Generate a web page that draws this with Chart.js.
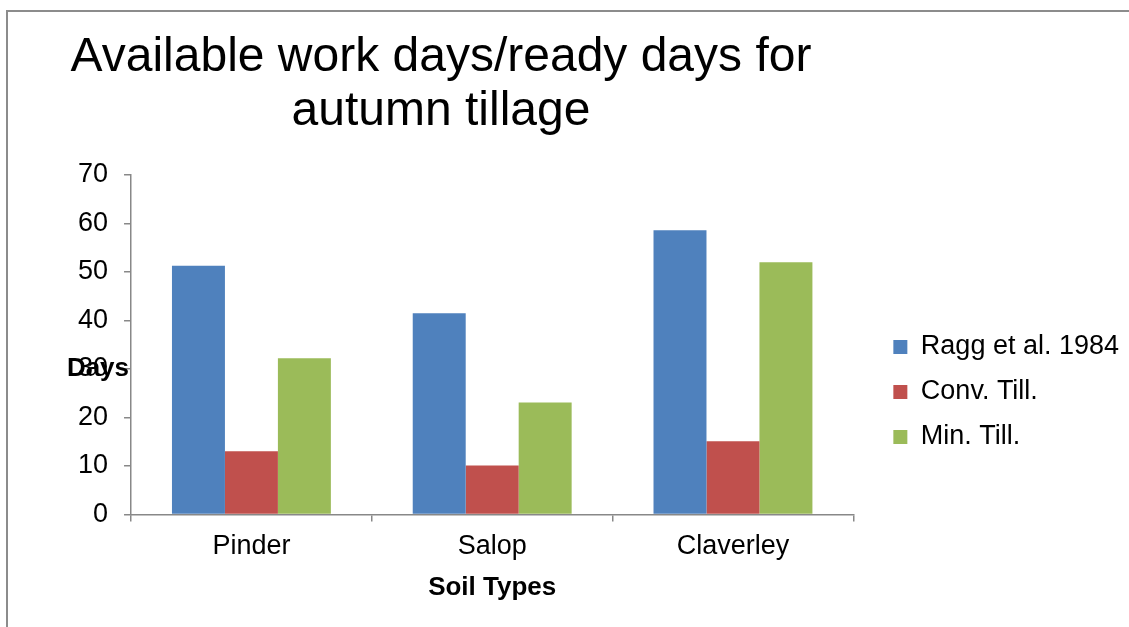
<!DOCTYPE html>
<html>
<head>
<meta charset="utf-8">
<script src="https://cdn.jsdelivr.net/npm/chart.js@4/dist/chart.umd.min.js"></script>
<style>
  html, body { margin: 0; padding: 0; background: #fff; overflow: hidden; }
  #wrap { position: relative; width: 1129px; height: 627px; }
  #frame { position: absolute; left: 6px; top: 10px; width: 1140px; height: 640px;
           border-left: 2px solid #8c8c8c; border-top: 2px solid #8c8c8c; }
  canvas { position: absolute; left: 0; top: 0; }
</style>
</head>
<body>
<div id="wrap">
  <div id="frame"></div>
  <canvas id="chart" width="1129" height="627"></canvas>
</div>
<script>
const soilTypes = ['Pinder', 'Salop', 'Claverley']
const raggDays = [51.3, 41.5, 58.6]
const convTillDays = [13, 10.1, 15.1]
const minTillDays = [32.2, 23.1, 52]
const titleLines = ['Available work days/ready days for', 'autumn tillage']

const FONT = '"Liberation Sans", Arial, sans-serif'
const AXIS_GREY = '#888888'

// title and the horizontal "Days" label sit where chart.js can't put them
const extraText = {
  id: 'extraText',
  afterDraw(chart) {
    const ctx = chart.ctx
    ctx.save()
    ctx.fillStyle = '#000'
    ctx.textAlign = 'center'
    ctx.textBaseline = 'middle'
    ctx.font = '48px ' + FONT
    ctx.fillText(titleLines[0], 441, 58)
    ctx.fillText(titleLines[1], 441, 112)
    ctx.font = 'bold 26px ' + FONT
    ctx.textAlign = 'right'
    ctx.fillText('Days', chart.chartArea.left - 2, 369)
    ctx.restore()
  }
}

new Chart(document.getElementById('chart'), {
  type: 'bar',
  data: {
    labels: soilTypes,
    datasets: [
      { label: 'Ragg et al. 1984', data: raggDays, backgroundColor: '#4F81BD' },
      { label: 'Conv. Till.', data: convTillDays, backgroundColor: '#C0504D' },
      { label: 'Min. Till.', data: minTillDays, backgroundColor: '#9BBB59' },
    ]
  },
  options: {
    responsive: false,
    animation: false,
    categoryPercentage: 0.66,
    barPercentage: 1,
    layout: { padding: { top: 175, left: 62, right: 0, bottom: 18 } },
    plugins: {
      tooltip: { enabled: false },
      legend: {
        position: 'right',
        maxWidth: 320,
        labels: {
          font: { family: FONT, size: 27 },
          color: '#000',
          boxWidth: 14,
          boxHeight: 14,
          padding: 18
        }
      }
    },
    scales: {
      x: {
        grid: { drawOnChartArea: false, tickLength: 7, color: AXIS_GREY, lineWidth: 1.5 },
        border: { color: AXIS_GREY, width: 1.5 },
        ticks: { font: { family: FONT, size: 27 }, color: '#000', padding: 9 },
        title: {
          display: true, text: 'Soil Types', color: '#000',
          font: { family: FONT, size: 26, weight: 'bold' },
          padding: { top: 0, bottom: 6 }
        }
      },
      y: {
        min: 0, max: 70,
        grid: { drawOnChartArea: false, tickLength: 7, color: AXIS_GREY, lineWidth: 1.5 },
        border: { color: AXIS_GREY, width: 1.5 },
        ticks: { stepSize: 10, font: { family: FONT, size: 27 }, color: '#000', padding: 16 }
      },
      gap: {
        // empty axis that only keeps the legend away from the bars
        position: 'right',
        display: true,
        grid: { display: false },
        border: { display: false },
        ticks: { display: false },
        afterFit(scale) { scale.width = 22 }
      }
    }
  },
  plugins: [extraText]
})
</script>
</body>
</html>
